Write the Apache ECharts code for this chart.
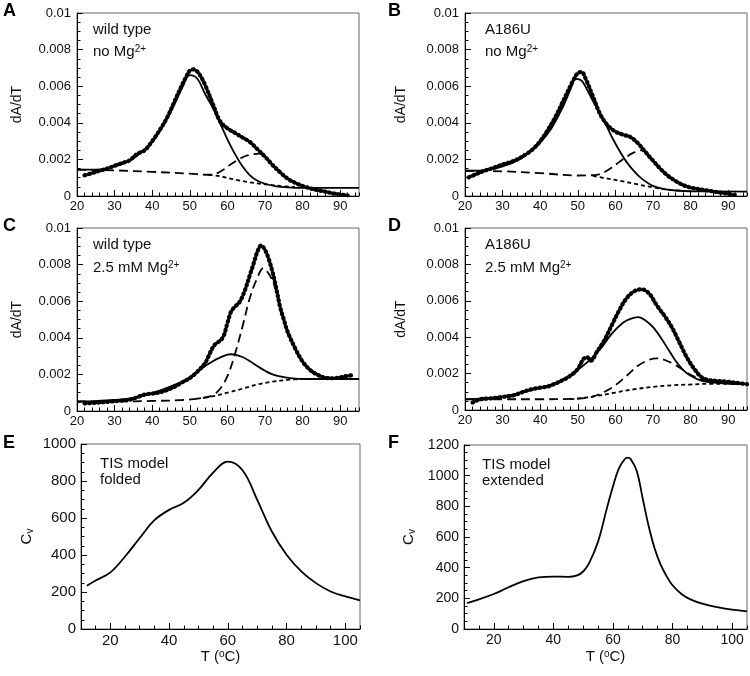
<!DOCTYPE html>
<html><head><meta charset="utf-8">
<script src="https://cdn.jsdelivr.net/npm/echarts@6/dist/echarts.min.js"></script>
<style>html,body{margin:0;padding:0;background:#fff}#c{width:750px;height:676px}</style>
</head><body><div id="c"></div>
<script>
// ---------- Panel A: wild type, no Mg2+ ----------
const tempA_data = [22,24,26,28,30,32,34,36,38,40,42,44,46,48,49,50,51,52,53,54,56,58,60,62,64,66,68,70,72,74,76,78,80,82,84,86,88,90,92];
const valA_data = [0.00113,0.00125,0.00138,0.0015,0.00165,0.0018,0.00195,0.0023,0.0025,0.003,0.0036,0.0043,0.0052,0.0061,0.0065,0.00685,0.00692,0.0068,0.0065,0.0061,0.0051,0.0041,0.0037,0.00345,0.0032,0.00295,0.00255,0.00215,0.0017,0.0013,0.00095,0.00072,0.00055,0.00042,0.00032,0.00024,0.00015,0.00008,0.00004];
const tempA_fit = [20,25,28,30,33,36,40,43,46,48,50,52,54,56,58,60,62,64,66,68,70,73,76,80,95];
const valA_fit = [0.00144,0.00144,0.0015,0.00162,0.00185,0.0022,0.00295,0.00386,0.00505,0.00592,0.0066,0.00641,0.0056,0.00486,0.004,0.0031,0.0023,0.00162,0.00113,0.00083,0.00067,0.00053,0.00047,0.00044,0.00044];
const tempA_long = [20,30,40,50,55,57,59,61,63,65,67,68.5,70,72,74,77,80,84,88,92];
const valA_long = [0.00144,0.0014,0.00132,0.00122,0.00116,0.00122,0.00145,0.00175,0.002,0.0022,0.00229,0.00232,0.00212,0.0017,0.0013,0.00085,0.00055,0.0003,0.00015,0.00006];
const tempA_short = [55,58,62,66,70,74,78];
const valA_short = [0.00116,0.00108,0.0009,0.00075,0.00064,0.00055,0.00048];

// ---------- Panel B: A186U, no Mg2+ ----------
const tempB_data = [21,23,25,27,30,33,36,38,40,42,44,46,48,49,50,51,52,54,56,58,60,62,64,66,68,70,72,74,76,78,80,82,84,86,88,90,92];
const valB_data = [0.00102,0.0012,0.00137,0.0015,0.00172,0.00192,0.00225,0.00255,0.003,0.0036,0.0043,0.00515,0.006,0.0064,0.00672,0.00678,0.00645,0.00545,0.00445,0.00385,0.00352,0.00335,0.00322,0.00288,0.0024,0.00193,0.00148,0.0011,0.00082,0.0006,0.00046,0.00038,0.00032,0.00025,0.00018,0.00012,0.00005];
const tempB_fit = [20,25,28,30,33,36,40,43,46,48,49.5,51,53,54,57,59,61,63,65,67,70,73,76,80,95];
const valB_fit = [0.00138,0.0014,0.0015,0.00162,0.00185,0.0022,0.00292,0.0037,0.00485,0.0058,0.0064,0.0063,0.0056,0.0052,0.0041,0.00325,0.0025,0.00185,0.00135,0.00095,0.00055,0.00038,0.0003,0.00026,0.00024];
const tempB_long = [20,30,40,50,55,57,59,61,63,65,67,68.5,70,72,75,78,82,86,90];
const valB_long = [0.00138,0.00135,0.00125,0.00112,0.00116,0.0013,0.00155,0.00185,0.00215,0.00238,0.0025,0.00235,0.00193,0.00148,0.00095,0.0006,0.00038,0.00025,0.00012];
const tempB_short = [54,58,62,66,70,74,78];
const valB_short = [0.0011,0.00095,0.0008,0.00063,0.00047,0.00035,0.00028];

// ---------- Panel C: wild type, 2.5 mM Mg2+ ----------
const tempC_data = [22,25,28,31,34,36,38,40,42,44,46,48,50,52,54,55,56,57,58,59,60,61,62,63,64,65,66,67,68,69,70,71,72,73,74,75,76,78,80,82,84,86,88,90,92,93];
const valC_data = [0.00042,0.00045,0.0005,0.00055,0.00062,0.00075,0.0009,0.00095,0.00102,0.00115,0.00133,0.00157,0.0018,0.00215,0.0026,0.003,0.00343,0.0037,0.00383,0.0041,0.0048,0.00544,0.0057,0.00589,0.00626,0.0068,0.00745,0.00808,0.00872,0.00905,0.0088,0.0083,0.0076,0.0067,0.0057,0.005,0.00434,0.00343,0.0027,0.00224,0.00197,0.00182,0.00179,0.00184,0.00192,0.00195];
const tempC_fit = [20,25,30,35,40,45,50,53,56,58,60,61,62,64,66,68,70,72,75,78,82,95];
const valC_fit = [0.00052,0.00054,0.0006,0.00072,0.00098,0.00135,0.00182,0.0023,0.0027,0.00292,0.00308,0.0031,0.00308,0.00295,0.00272,0.00245,0.0022,0.002,0.00185,0.00177,0.00175,0.00175];
const tempC_long = [20,30,40,48,53,56,58,60,62,64,66,68,69.5,71,72.5,74,76,78,80,83,86,90];
const valC_long = [0.00052,0.00052,0.00055,0.0006,0.0007,0.00085,0.0012,0.0019,0.0031,0.0046,0.0062,0.0073,0.0078,0.0075,0.00685,0.0057,0.00434,0.00343,0.0027,0.00215,0.00185,0.00178];
const tempC_short = [52,56,60,64,68,72,76,80];
const valC_short = [0.00068,0.0008,0.001,0.00122,0.00145,0.0016,0.0017,0.00175];

// ---------- Panel D: A186U, 2.5 mM Mg2+ ----------
const tempD_data = [22,24,27,30,33,35,37,40,42,44,46,48,50,51.5,52.5,53.5,55,57,59,61,63,65,67,69,71,73,75,77,79,81,83,85,87,90,93,95];
const valD_data = [0.00041,0.00059,0.00064,0.00072,0.00081,0.00096,0.0011,0.00123,0.00129,0.00145,0.00164,0.00188,0.00225,0.0028,0.00289,0.00271,0.00317,0.00381,0.00464,0.00547,0.00615,0.00652,0.00663,0.00639,0.00575,0.00519,0.00455,0.00372,0.00289,0.00225,0.00179,0.00164,0.0016,0.00155,0.00147,0.00142];
const tempD_fit = [20,25,30,35,40,45,50,53,56,59,62,64,66,68,70,72,74,76,78,80,83,86,90,95];
const valD_fit = [0.00059,0.00064,0.00074,0.00096,0.00123,0.00155,0.00221,0.00271,0.00335,0.00418,0.00479,0.00501,0.0051,0.00492,0.00455,0.004,0.00335,0.00271,0.00221,0.00188,0.0016,0.00151,0.00145,0.00142];
const tempD_long = [20,30,40,50,54,57,60,63,66,69,71,73,76,79,82,85,90,95];
const valD_long = [0.00059,0.00059,0.00059,0.00063,0.00074,0.00099,0.00136,0.00188,0.00243,0.00276,0.00284,0.00276,0.00247,0.00206,0.00175,0.0016,0.00147,0.00143];
const tempD_short = [48,50,55,60,65,70,75,80,85,90,95];
const valD_short = [0.0006,0.00063,0.00077,0.00096,0.00114,0.00127,0.00136,0.0014,0.00144,0.00144,0.00144];

// ---------- Panel E / F: TIS model Cv ----------
const tempE = [12,15,20,25,30,35,40,45,50,55,60,65,70,75,80,85,90,95,100,105];
const cvE = [234,262,306,392,492,588,644,682,752,845,905,858,698,527,401,311,248,203,176,155];
const tempF = [11,15,20,25,30,35,40,45,48,50,52,55,58,60,62,64,65,66,68,70,72,74,76,78,80,83,86,90,95,100,105];
const cvF = [169,193,228,272,312,336,342,340,350,375,430,570,790,929,1048,1109,1118,1107,1030,850,670,525,420,345,285,228,193,165,143,126,115];

// tick labels
const dadtTicks = [20,30,40,50,60,70,80,90];
const cvTicks = [20,40,60,80,100];
const panelLetters = ['A','B','C','D','E','F'];

// ---------------------------------------------------------------
const FONT = '"Liberation Sans", Arial, Helvetica, sans-serif';
const INK = '#111';
const zip = (t, v) => t.map((x, i) => [x, v[i]]);

const grids = [
  {left: 77, top: 13, width: 282, height: 183},
  {left: 465, top: 13, width: 282, height: 183},
  {left: 77, top: 228, width: 282, height: 183},
  {left: 465, top: 228, width: 282, height: 182},
  {left: 81, top: 444, width: 279, height: 185},
  {left: 464, top: 445, width: 283, height: 184}
].map(g => Object.assign({show: true, borderColor: '#666', borderWidth: 1, backgroundColor: 'transparent'}, g));

const xAxis = [], yAxis = [], series = [];
const axisLineStyle = {show: true, lineStyle: {color: '#000', width: 1}};
// ticks drawn toward the plot: outward direction with negative length
const majorTick = {show: true, inside: false, length: -6, lineStyle: {color: '#000', width: 1}};
const smallTick = {show: true, inside: false, length: -3.5, lineStyle: {color: '#000', width: 1}};
const plainFmt = v => String(+v.toPrecision(6));

function mainX(gi, min, max, extra) {
  return Object.assign({
    type: 'value', gridIndex: gi, min: min, max: max, position: 'bottom',
    axisLine: axisLineStyle,
    axisTick: majorTick,
    axisLabel: {show: true, fontFamily: FONT, fontSize: 13, color: INK, margin: 4},
    splitLine: {show: false}
  }, extra);
}
function minorX(gi, min, max, step) {
  return {
    type: 'value', gridIndex: gi, min: min, max: max, interval: step, position: 'bottom',
    axisLine: {show: false},
    axisTick: smallTick,
    axisLabel: {show: false}, splitLine: {show: false}
  };
}
function mainY(gi, max, step, gap, name, fontSize, margin) {
  return {
    type: 'value', gridIndex: gi, min: 0, max: max, interval: step,
    axisLine: axisLineStyle,
    axisTick: majorTick,
    minorTick: {show: true, splitNumber: 4, length: -3.5, lineStyle: {color: '#000', width: 1}},
    axisLabel: {show: true, fontFamily: FONT, fontSize: fontSize, color: INK, margin: margin, formatter: plainFmt},
    splitLine: {show: false},
    name: name, nameLocation: 'middle', nameGap: gap, nameRotate: 90,
    nameTextStyle: {fontFamily: FONT, fontSize: 14, color: INK,
      rich: {c: {fontFamily: FONT, fontSize: 15, color: INK}, v: {fontFamily: FONT, fontSize: 10, color: INK, verticalAlign: 'bottom', padding: [6, 0, 0, 0]}}}
  };
}

const dadtPanels = [
  {d: [tempA_data, valA_data], f: [tempA_fit, valA_fit], l: [tempA_long, valA_long], s: [tempA_short, valA_short], gap: 53},
  {d: [tempB_data, valB_data], f: [tempB_fit, valB_fit], l: [tempB_long, valB_long], s: [tempB_short, valB_short], gap: 57},
  {d: [tempC_data, valC_data], f: [tempC_fit, valC_fit], l: [tempC_long, valC_long], s: [tempC_short, valC_short], gap: 53},
  {d: [tempD_data, valD_data], f: [tempD_fit, valD_fit], l: [tempD_long, valD_long], s: [tempD_short, valD_short], gap: 57}
];

dadtPanels.forEach((p, i) => {
  xAxis.push(mainX(i, 20, 95, {interval: 10,
    axisTick: Object.assign({customValues: dadtTicks}, majorTick),
    axisLabel: {show: true, fontFamily: FONT, fontSize: 13, color: INK, margin: 4, customValues: dadtTicks, formatter: plainFmt}}));
  xAxis.push(minorX(i, 20, 95, 2));
  yAxis.push(mainY(i, 0.01, 0.002, p.gap, 'dA/dT', 13, 6));
  const xi = 2 * i;
  const base = {type: 'line', xAxisIndex: xi, yAxisIndex: i, showSymbol: false, symbol: 'none', smooth: 0.35, silent: true, animation: false};
  series.push(Object.assign({}, base, {data: zip(p.d[0], p.d[1]), z: 2,
    lineStyle: {color: '#000', width: 4.2, type: [1, 3.6], cap: 'round'}}));
  series.push(Object.assign({}, base, {data: zip(p.f[0], p.f[1]), z: 3,
    lineStyle: {color: '#000', width: 1.8, type: 'solid'}}));
  series.push(Object.assign({}, base, {data: zip(p.l[0], p.l[1]), z: 3,
    lineStyle: {color: '#000', width: 1.8, type: [9, 5]}}));
  series.push(Object.assign({}, base, {data: zip(p.s[0], p.s[1]), z: 3,
    lineStyle: {color: '#000', width: 1.8, type: [4, 3]}}));
});

const tLabel = {name: '{t|T (}{o|o}{t|C)}', nameLocation: 'middle', nameGap: 20,
  nameTextStyle: {fontFamily: FONT, fontSize: 15, color: INK,
    rich: {t: {fontFamily: FONT, fontSize: 15, color: INK}, o: {fontFamily: FONT, fontSize: 10, color: INK, verticalAlign: 'top', padding: [0, 0, 6, 0]}}}};

[[tempE, cvE, 1000, 46, 15], [tempF, cvF, 1200, 47, 14]].forEach((p, k) => {
  const gi = 4 + k;
  xAxis.push(mainX(gi, 10, 105, Object.assign({
    axisTick: Object.assign({customValues: cvTicks}, majorTick),
    axisLabel: {show: true, fontFamily: FONT, fontSize: p[4], color: INK, margin: 4, customValues: cvTicks, formatter: plainFmt}
  }, tLabel)));
  xAxis.push(minorX(gi, 10, 105, 5));
  yAxis.push(mainY(gi, p[2], 200, p[3], '{c|C}{v|v}', p[4], 5));
  series.push({type: 'line', xAxisIndex: 2 * gi, yAxisIndex: gi, data: zip(p[0], p[1]),
    showSymbol: false, symbol: 'none', smooth: 0.4, silent: true, animation: false,
    lineStyle: {color: '#000', width: 1.8}});
});

// annotations
const annRich = {n: {fontFamily: FONT, fontSize: 15, color: INK}, s: {fontFamily: FONT, fontSize: 10, color: INK, verticalAlign: 'top', padding: [0, 0, 5, 0]}};
function txt(x, y, text, size) {
  return {type: 'text', x: x, y: y, silent: true,
    style: {text: text, fontFamily: FONT, fontSize: size || 15, fill: INK, rich: annRich, verticalAlign: 'middle'}};
}
const letterPos = [[3, 11], [388, 11], [3, 226], [388, 226], [3, 443], [388, 443]];
const graphics = letterPos.map((p, i) => ({type: 'text', x: p[0], y: p[1], silent: true,
  style: {text: panelLetters[i], fontFamily: FONT, fontSize: 18, fontWeight: 'bold', fill: '#000', verticalAlign: 'middle'}}));
graphics.push(
  txt(93, 30, '{n|wild type}'), txt(93, 52, '{n|no Mg}{s|2+}'),
  txt(485, 30, '{n|A186U}'), txt(485, 52, '{n|no Mg}{s|2+}'),
  txt(93, 245, '{n|wild type}'), txt(93, 268, '{n|2.5 mM Mg}{s|2+}'),
  txt(485, 245, '{n|A186U}'), txt(485, 268, '{n|2.5 mM Mg}{s|2+}'),
  txt(100, 464, '{n|TIS model}'), txt(100, 480, '{n|folded}'),
  txt(482, 465, '{n|TIS model}'), txt(482, 481, '{n|extended}')
);

const chart = echarts.init(document.getElementById('c'), null, {renderer: 'canvas'});
chart.setOption({
  animation: false,
  backgroundColor: '#fff',
  grid: grids, xAxis: xAxis, yAxis: yAxis, series: series,
  graphic: graphics
});
</script></body></html>
